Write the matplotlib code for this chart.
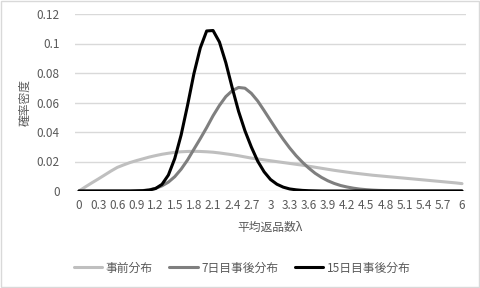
import matplotlib
matplotlib.use('Agg')
import matplotlib.pyplot as plt
from matplotlib.patches import Rectangle

plt.rcParams['font.family'] = ['Noto Sans CJK JP', 'DejaVu Sans']

# lambda grid (0.0 .. 6.0 step 0.1)
lam = [round(i * 0.1, 1) for i in range(61)]

prior = [0.0, 0.0028, 0.0055, 0.0081, 0.0108, 0.0135, 0.0160, 0.0177, 0.0193, 0.0206,
         0.0218, 0.0230, 0.0240, 0.0249, 0.0256, 0.0262, 0.0266, 0.0268, 0.0269, 0.0268,
         0.0266, 0.0263, 0.0258, 0.0252, 0.0246, 0.0239, 0.0231, 0.0223, 0.0217, 0.0211,
         0.0205, 0.0199, 0.0193, 0.0187, 0.0181, 0.0175, 0.0168, 0.0161, 0.0154, 0.0147,
         0.0140, 0.0134, 0.0128, 0.0122, 0.0117, 0.0112, 0.0107, 0.0103, 0.0099, 0.0095,
         0.0091, 0.0087, 0.0083, 0.0079, 0.0075, 0.0071, 0.0067, 0.0063, 0.0059, 0.0055,
         0.0050]

post7 = [0.0, 0.0, 0.0, 0.0, 0.0, 0.0, 0.0, 0.0, 0.0, 0.0001,
         0.0003, 0.0008, 0.0018, 0.0035, 0.0060, 0.0097, 0.0148, 0.0210, 0.0283, 0.0355,
         0.0430, 0.0510, 0.0580, 0.0640, 0.0680, 0.0702, 0.0697, 0.0662, 0.0610, 0.0545,
         0.0478, 0.0412, 0.0350, 0.0292, 0.0240, 0.0195, 0.0155, 0.0120, 0.0092, 0.0069,
         0.0051, 0.0037, 0.0027, 0.0019, 0.0013, 0.0009, 0.0006, 0.0004, 0.0003, 0.0002,
         0.0001, 0.0, 0.0, 0.0, 0.0, 0.0, 0.0, 0.0, 0.0, 0.0,
         0.0]

post15 = [0.0, 0.0, 0.0, 0.0, 0.0, 0.0, 0.0, 0.0, 0.0, 0.0001,
          0.0002, 0.0006, 0.0017, 0.0045, 0.0108, 0.0220, 0.0380, 0.0580, 0.0795, 0.0970,
          0.1085, 0.1088, 0.1010, 0.0870, 0.0700, 0.0540, 0.0408, 0.0298, 0.0202, 0.0130,
          0.0078, 0.0046, 0.0026, 0.0014, 0.0008, 0.0004, 0.0002, 0.0001, 0.0, 0.0,
          0.0, 0.0, 0.0, 0.0, 0.0, 0.0, 0.0, 0.0, 0.0, 0.0,
          0.0, 0.0, 0.0, 0.0, 0.0, 0.0, 0.0, 0.0, 0.0, 0.0,
          0.0]

names = ['事前分布', '7日目事後分布', '15日目事後分布']
colors = ['#bfbfbf', '#7f7f7f', '#000000']
tick_pos = lam[::3]
tick_lbl = ['0', '0.3', '0.6', '0.9', '1.2', '1.5', '1.8', '2.1', '2.4', '2.7', '3',
            '3.3', '3.6', '3.9', '4.2', '4.5', '4.8', '5.1', '5.4', '5.7', '6']
yticks = [0, 0.02, 0.04, 0.06, 0.08, 0.1, 0.12]
ylbl = ['0', '0.02', '0.04', '0.06', '0.08', '0.1', '0.12']

TXT = '#595959'

fig = plt.figure(figsize=(4.8, 2.88), dpi=100)
fig.patches.append(Rectangle((0.002, 0.003), 0.996, 0.994, transform=fig.transFigure,
                             fill=False, edgecolor='#d9d9d9', lw=1))
ax = fig.add_axes([75 / 480, 1 - 191 / 288, 391 / 480, 177 / 288])

for ys, c, n in zip([prior, post7, post15], colors, names):
    ax.plot(lam, ys, color=c, lw=2.2, label=n, solid_capstyle='round', solid_joinstyle='round')

ax.set_xlim(-4 / 63.83, 6 + 4 / 63.83)
ax.set_ylim(0, 0.12)
ax.set_xticks(tick_pos)
ax.set_xticklabels(tick_lbl)
ax.set_yticks(yticks)
ax.set_yticklabels(ylbl)
ax.tick_params(length=0, labelsize=8.5, labelcolor=TXT)
ax.tick_params(axis='x', pad=6)
ax.tick_params(axis='y', pad=11)
ax.grid(axis='y', color='#d9d9d9', lw=1)
ax.set_axisbelow(True)
for s in ax.spines.values():
    s.set_visible(False)

ax.set_xlabel('平均返品数λ', fontsize=8.5, color=TXT, labelpad=6)
fig.text(25 / 480, 1 - 102 / 288, '確率密度', rotation=90, fontsize=8.5, color=TXT,
         ha='center', va='center')

fig.legend(loc='center', bbox_to_anchor=(242 / 480, 1 - 268 / 288), ncol=3, frameon=False,
           fontsize=8.5, labelcolor=TXT, handlelength=2.4, columnspacing=1.4, handletextpad=0.3)

fig.savefig('out.png', dpi=100)
